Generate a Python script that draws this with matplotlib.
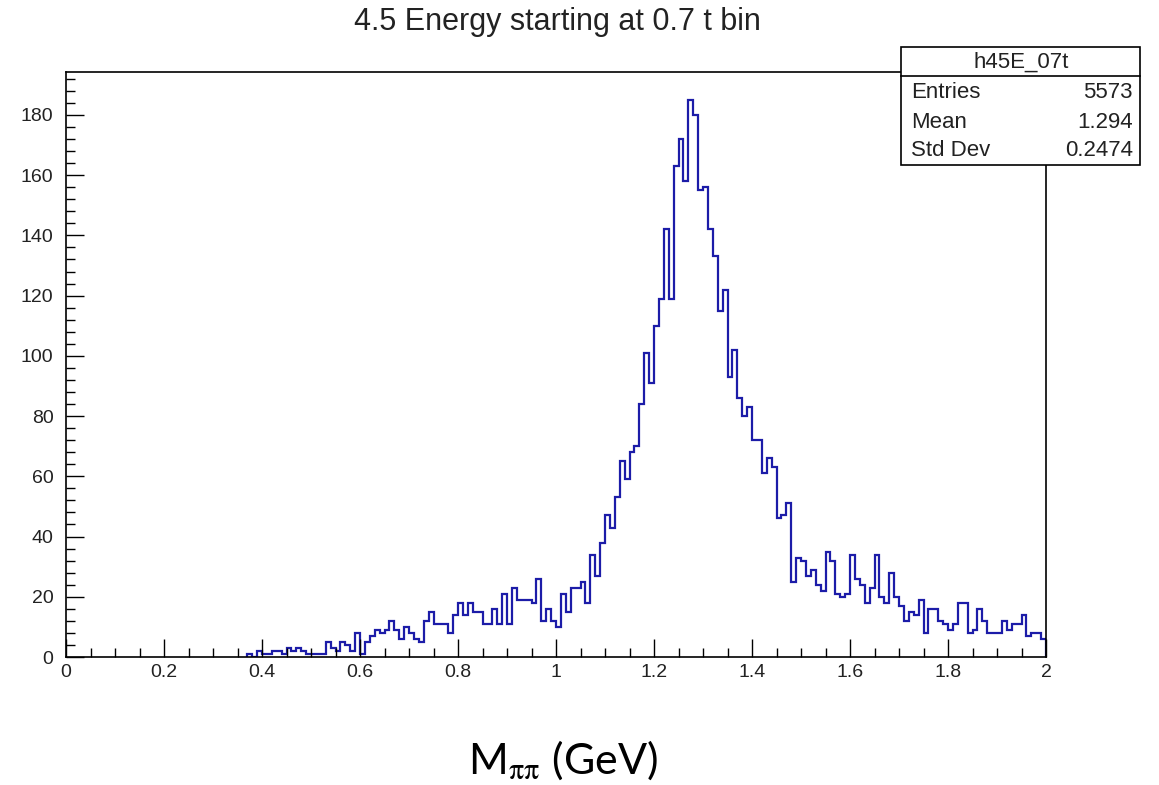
import numpy as np
import matplotlib
matplotlib.use("Agg")
import matplotlib.pyplot as plt
from matplotlib.patches import Rectangle
from matplotlib.lines import Line2D
from matplotlib.ticker import MultipleLocator

plt.rcParams['font.family'] = ['Liberation Sans', 'DejaVu Sans']
plt.rcParams['mathtext.fontset'] = 'stix'

title = "4.5 Energy starting at 0.7 t bin"
hist_name = "h45E_07t"
stat_names = ["Entries", "Mean", "Std Dev"]
stat_values = ["5573", "1.294", "0.2474"]
x_label = r"M$_{\mathrm{\pi\pi}}$ (GeV)"

# histogram binning: 200 bins of 0.01 GeV from 0 to 2
x_lo, x_hi, n_bins = 0.0, 2.0, 200
first_filled = 37  # bins below 0.37 GeV are empty

# bin contents from 0.37 GeV up to 2.0 GeV
counts_low = [1, 0, 2, 1, 1, 2, 2, 1, 3, 2, 3, 2, 1, 1, 1, 1, 5, 3, 2, 5,
              4, 2, 8, 1, 5, 7, 9, 8, 9, 12]
counts_mid = [9, 6, 10, 8, 6, 5, 12, 15, 11, 11, 11, 8, 14, 18, 14, 18, 15,
              15, 11, 11, 16, 11, 21, 11, 23, 19, 19, 19, 18, 26, 12, 16, 12]
counts_rise = [10, 21, 15, 23, 23, 25, 18, 34, 27, 38, 47, 43, 53, 65, 59,
               68, 70]
counts_peak = [84, 101, 91, 110, 119, 142, 119, 163, 172, 158, 185, 180, 155,
               156, 142, 133, 115, 122, 93, 102]
counts_fall = [86, 80, 83, 72, 72, 61, 66, 63, 46, 47, 51]
counts_tail = [25, 33, 32, 27, 29, 24, 22, 35, 32, 21, 20, 21, 34, 26, 24,
               18, 23, 34, 20, 18, 28, 20]
counts_end = [17, 12, 15, 14, 19, 8, 16, 16, 12, 11, 9, 11, 18, 18, 8, 9, 16,
              12, 8, 8, 8, 12, 9, 11, 11, 14, 7, 8, 8, 6]

xtick_vals = [0, 0.2, 0.4, 0.6, 0.8, 1.0, 1.2, 1.4, 1.6, 1.8, 2.0]
xtick_labels = ["0", "0.2", "0.4", "0.6", "0.8", "1", "1.2", "1.4", "1.6", "1.8", "2"]
ytick_vals = [0, 20, 40, 60, 80, 100, 120, 140, 160, 180]

W, H = 1159, 785


def px(x, y):
    return x / W, 1 - y / H


filled = counts_low + counts_mid + counts_rise + counts_peak + counts_fall + counts_tail + counts_end
edges = np.linspace(x_lo, x_hi, n_bins + 1)
counts = np.zeros(n_bins)
counts[first_filled:] = filled

fig = plt.figure(figsize=(W / 100, H / 100), dpi=100)
ax = fig.add_axes([66 / W, 1 - 657 / H, 980 / W, (657 - 72) / H])

ax.stairs(counts[first_filled:], edges[first_filled:], color='#1c1ca8', lw=1.6, baseline=0)

ax.set_xlim(x_lo, x_hi)
ax.set_ylim(0, 1.05 * counts.max())
ax.set_xticks(xtick_vals, xtick_labels)
ax.set_yticks(ytick_vals)
ax.xaxis.set_minor_locator(MultipleLocator(0.05))
ax.yaxis.set_minor_locator(MultipleLocator(4))
ax.tick_params(which='both', direction='in', top=False, right=False, width=1.0, color='black')
ax.tick_params(which='major', length=13, labelsize=14, labelcolor='#222222')
ax.tick_params(which='minor', length=6.5)
ax.tick_params(axis='x', pad=5)
ax.tick_params(axis='y', pad=9)
for s in ax.spines.values():
    s.set_linewidth(1.2)

# title
tx, ty = px(557, 22)
fig.text(tx, ty, title, fontsize=22, ha='center', va='center', color='#222222')

# stats box
bx0, by0 = px(901, 165)
bx1, by1 = px(1140, 47)
fig.add_artist(Rectangle((bx0, by0), bx1 - bx0, by1 - by0, transform=fig.transFigure,
                         facecolor='white', edgecolor='black', lw=1.2, zorder=5))
_, hy = px(0, 76)
fig.add_artist(Line2D([bx0, bx1], [hy, hy], transform=fig.transFigure, color='black', lw=1.2, zorder=6))
hx, hty = px(1021, 62)
fig.text(hx, hty, hist_name, fontsize=16, ha='center', va='center', zorder=7, color='#222222')
row_y = [93, 122, 150]
for name, val, ry in zip(stat_names, stat_values, row_y):
    lx, ly = px(911, ry)
    rx, _ = px(1133, ry)
    fig.text(lx, ly, name, fontsize=16, ha='left', va='center', zorder=7, color='#222222')
    fig.text(rx, ly, val, fontsize=16, ha='right', va='center', zorder=7, color='#222222')

# axis label added below the plot
lx, ly = px(563, 760)
fig.text(lx, ly, x_label, fontsize=31, family=['Lato', 'DejaVu Sans'], ha='center', va='center')

fig.savefig("out.png", dpi=100)
